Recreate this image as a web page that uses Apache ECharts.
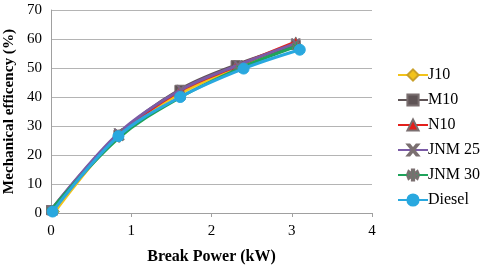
<!DOCTYPE html>
<html><head><meta charset="utf-8">
<script src="https://cdn.jsdelivr.net/npm/echarts@6/dist/echarts.min.js"></script>
<style>html,body{margin:0;padding:0;background:#fff}#c{width:480px;height:272px}</style>
</head><body><div id="c"></div>
<script>
const seriesNames = ['J10','M10','N10','JNM 25','JNM 30','Diesel'];
const J10 = [[0.05,0.5],[0.85,27],[1.6,41],[2.3,50],[3.05,57.5]];
const M10 = [[0.0,1],[0.84,27],[1.6,42.5],[2.3,51],[3.05,58]];
const N10 = [[0.02,1],[0.85,27],[1.6,42],[2.3,50.5],[3.05,59]];
const JNM25 = [[0.0,1],[0.84,27.5],[1.62,42.5],[2.33,51],[3.05,58.5]];
const JNM30 = [[0.0,1],[0.85,26],[1.62,40],[2.36,50],[3.06,57.5]];
const Diesel = [[0.02,0.5],[0.84,26.5],[1.61,40],[2.4,49.8],[3.1,56.3]];
const xTicks = [0,1,2,3,4];
const yTicks = [0,10,20,30,40,50,60,70];

const colors = ['#F2C31B','#5F5456','#E3201C','#7B5BA6','#1FA35B','#29A8DF'];
const symbols = ['diamond','rect','triangle',
  'path://M0,0 L2,0 L5,3 L8,0 L10,0 L6,4 L10,8 L8,8 L5,5 L2,8 L0,8 L4,4 Z',
  'path://M4,0 L6,0 L6,3 L9,1 L10,3 L7,4 L10,5 L9,7 L6,5 L6,8 L4,8 L4,5 L1,7 L0,5 L3,4 L0,3 L1,1 L4,3 Z',
  'circle'];
const symSizes = [9,9,10,9,9,11];
const datas = [J10,M10,N10,JNM25,JNM30,Diesel];
const font = 'Liberation Serif';

const chart = echarts.init(document.getElementById('c'));
chart.setOption({
  animation:false,
  grid:{left:51,right:108,top:10,bottom:59,outerBoundsMode:'none',containLabel:false},
  xAxis:{type:'value',min:xTicks[0],max:xTicks[xTicks.length-1],interval:1,
    name:'Break Power (kW)',nameLocation:'middle',nameGap:36,
    nameTextStyle:{fontFamily:font,fontWeight:'bold',fontSize:16,color:'#000'},
    axisLine:{lineStyle:{color:'#a0a0a0'}},axisTick:{show:true,length:4,lineStyle:{color:'#a0a0a0'}},
    axisLabel:{fontFamily:font,fontSize:15,color:'#000',margin:11},
    splitLine:{show:false}},
  yAxis:{type:'value',min:yTicks[0],max:yTicks[yTicks.length-1],interval:10,
    name:'Mechanical efficency (%)',nameLocation:'middle',nameGap:26,
    nameTextStyle:{fontFamily:font,fontWeight:'bold',fontSize:15.2,color:'#000'},
    axisLine:{show:true,lineStyle:{color:'#a0a0a0'}},axisTick:{show:false},
    axisLabel:{fontFamily:font,fontSize:15,color:'#000',margin:9},
    splitLine:{lineStyle:{color:'#b4b4b4'}}},
  legend:{orient:'vertical',left:392,top:62,itemGap:9,itemWidth:30,itemHeight:14,
    textStyle:{fontFamily:font,fontSize:16,color:'#000',padding:[0,0,0,-5]},
    data:seriesNames},
  series:seriesNames.map((n,i)=>({
    name:n,type:'line',smooth:0.35,data:datas[i],
    symbol:symbols[i],symbolSize:symSizes[i],
    lineStyle:{width:3,color:colors[i]},
    itemStyle:{color:colors[i],borderColor:i===0?'#c9a02a':(i===5?colors[i]:'#7a6f70'),borderWidth:1},
    z:2+i
  }))
});
</script></body></html>
